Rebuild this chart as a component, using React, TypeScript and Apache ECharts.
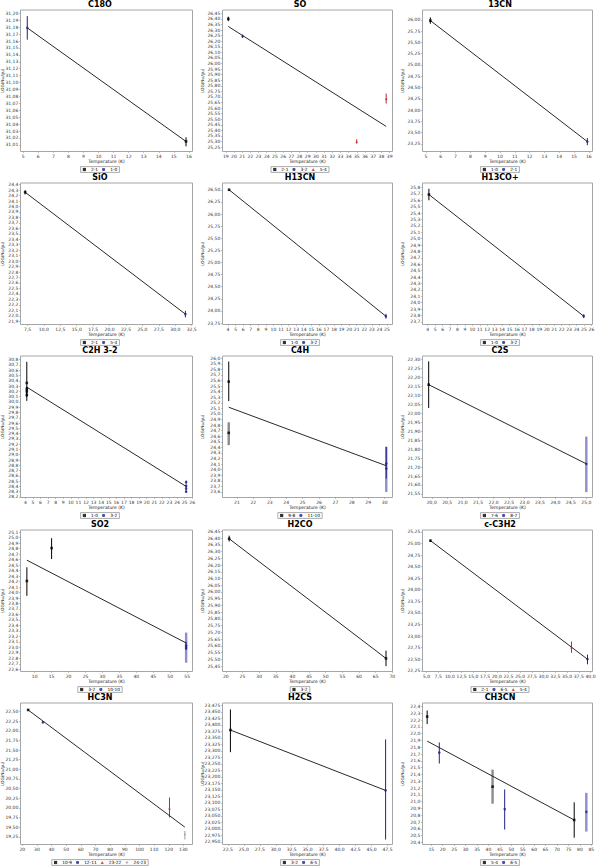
import React, { useEffect, useRef } from "react";
import * as echarts from "echarts";

const COLORS = ["#000000", "#20208c", "#c42a2a", "#a0a0a0"];
const LIGHT = ["#8c8c8c", "#8e8ec8", "#e08a8a", "#cfcfcf"];
const SYMBOLS = ["rect", "circle", "triangle", "diamond"];

// point rows: [x (Eu/k), log(Nu/gu), lower, upper, transition index, blended(0/1)]
// axis rows: [min, max, tick step, decimals]

const C18O_SERIES = ["2-1", "1-0"];
const C18O_POINTS = [[15.81, 31.015, 31.008, 31.021, 0, 0], [5.27, 31.179, 31.162, 31.196, 1, 0]];
const C18O_FIT = [[5.27, 31.179], [15.81, 31.015]];
const C18O_X = [4.82, 16.24, 1, 0];
const C18O_Y = [31.0005, 31.2048, 0.01, 2];

const SO_SERIES = ["2-1", "3-2", "5-4"];
const SO_POINTS = [[19.31, 26.40, 26.38, 26.42, 0, 0], [21.05, 26.244, 26.23, 26.26, 1, 0], [34.98, 25.30, 25.28, 25.32, 2, 0], [38.58, 25.685, 25.64, 25.73, 2, 0]];
const SO_FIT = [[19.31, 26.332], [38.58, 25.435]];
const SO_X = [18.6, 39.35, 1, 0];
const SO_Y = [25.21, 26.48, 0.05, 2];

const CN13_SERIES = ["1-0", "2-1"];
const CN13_POINTS = [[5.3, 25.985, 25.915, 26.055, 0, 0], [15.9, 23.30, 23.22, 23.38, 1, 0]];
const CN13_FIT = [[5.3, 25.985], [15.9, 23.30]];
const CN13_X = [4.77, 16.25, 1, 0];
const CN13_Y = [23.08, 26.22, 0.25, 2];

const SIO_SERIES = ["2-1", "5-4"];
const SIO_POINTS = [[7.15, 24.26, 24.22, 24.30, 0, 0], [31.54, 22.03, 21.97, 22.09, 1, 0]];
const SIO_FIT = [[7.15, 24.26], [31.54, 22.03]];
const SIO_X = [6.44, 32.62, 2.5, 1];
const SIO_Y = [21.84, 24.43, 0.1, 1];

const H13CN_SERIES = ["1-0", "3-2"];
const H13CN_POINTS = [[4.14, 26.50, 26.48, 26.52, 0, 0], [24.86, 23.89, 23.84, 23.94, 1, 0]];
const H13CN_FIT = [[4.14, 26.50], [24.86, 23.89]];
const H13CN_X = [3.27, 25.73, 1, 0];
const H13CN_Y = [23.72, 26.64, 0.25, 2];

const H13COP_SERIES = ["1-0", "3-2"];
const H13COP_POINTS = [[4.16, 25.69, 25.60, 25.78, 0, 0], [24.97, 23.79, 23.76, 23.82, 1, 0]];
const H13COP_FIT = [[4.16, 25.69], [24.97, 23.79]];
const H13COP_X = [3.3, 26.15, 1, 0];
const H13COP_Y = [23.66, 25.87, 0.1, 1];

const C2H_SERIES = ["1-0", "3-2"];
const C2H_POINTS = [
  [4.19, 30.36, 30.02, 30.76, 0, 0], [4.19, 30.25, 30.21, 30.29, 0, 0], [4.19, 30.20, 30.16, 30.24, 0, 0], [4.19, 30.13, 30.10, 30.17, 0, 0],
  [25.2, 28.48, 28.45, 28.51, 1, 0], [25.2, 28.41, 28.38, 28.44, 1, 0], [25.2, 28.36, 28.33, 28.39, 1, 0], [25.2, 28.30, 28.28, 28.33, 1, 0],
];
const C2H_FIT = [[4.19, 30.28], [25.2, 28.40]];
const C2H_X = [3.36, 26.04, 1, 0];
const C2H_Y = [28.19, 30.87, 0.1, 1];

const C4H_SERIES = ["9-8", "11-10"];
const C4H_POINTS = [
  [20.5, 24.66, 24.44, 24.85, 0, 1], [20.5, 25.58, 25.23, 25.94, 0, 0],
  [30.1, 24.02, 23.60, 24.41, 1, 1], [30.1, 24.11, 23.84, 24.41, 1, 0],
];
const C4H_FIT = [[20.5, 25.12], [30.1, 24.07]];
const C4H_X = [20.12, 30.48, 1, 0];
const C4H_Y = [23.5, 26.04, 0.1, 1];

const C2S_SERIES = ["7-6", "8-7"];
const C2S_POINTS = [[19.9, 22.16, 22.03, 22.29, 0, 0], [25.0, 21.718, 21.56, 21.87, 1, 1]];
const C2S_FIT = [[19.9, 22.16], [25.0, 21.718]];
const C2S_X = [19.7, 25.2, 0.5, 1];
const C2S_Y = [21.53, 22.32, 0.05, 2];

const SO2_SERIES = ["3-2", "10-10"];
const SO2_POINTS = [
  [7.7, 24.21, 23.94, 24.46, 0, 0], [15.0, 24.81, 24.61, 24.99, 0, 0],
  [54.7, 22.99, 22.72, 23.27, 1, 1], [54.7, 23.03, 22.95, 23.10, 1, 0],
];
const SO2_FIT = [[7.7, 24.59], [54.7, 23.08]];
const SO2_X = [5.82, 56.58, 5, 0];
const SO2_Y = [22.56, 25.14, 0.1, 1];

const H2CO_SERIES = ["3-2"];
const H2CO_POINTS = [[21.0, 26.395, 26.375, 26.418, 0, 0], [68.1, 25.507, 25.45, 25.565, 0, 0]];
const H2CO_FIT = [[21.0, 26.395], [68.1, 25.507]];
const H2CO_X = [19.0, 70.05, 5, 0];
const H2CO_Y = [25.41, 26.46, 0.05, 2];

const CC3H2_SERIES = ["2-1", "6-5", "5-4"];
const CC3H2_POINTS = [[5.85, 25.06, 25.04, 25.08, 0, 0], [39.36, 22.50, 22.39, 22.60, 1, 0], [35.95, 22.76, 22.64, 22.88, 2, 0]];
const CC3H2_FIT = [[5.85, 25.06], [39.36, 22.50]];
const CC3H2_X = [4.15, 40.43, 2.5, 1];
const CC3H2_Y = [22.235, 25.29, 0.25, 2];

const HC3N_SERIES = ["10-9", "12-11", "23-22", "24-23"];
const HC3N_POINTS = [[24.0, 22.54, 22.52, 22.56, 0, 0], [34.1, 22.22, 22.19, 22.25, 1, 0], [120.5, 19.99, 19.75, 20.27, 2, 0], [130.98, 19.31, 19.18, 19.40, 3, 0]];
const HC3N_FIT = [[24.0, 22.54], [130.98, 19.50]];
const HC3N_X = [18.8, 136.2, 10, 0];
const HC3N_Y = [19.05, 22.72, 0.25, 2];

const H2CS_SERIES = ["3-2", "6-5"];
const H2CS_POINTS = [[22.9, 23.38, 23.295, 23.459, 0, 0], [47.2, 23.148, 22.959, 23.344, 1, 0]];
const H2CS_FIT = [[22.9, 23.38], [47.2, 23.148]];
const H2CS_X = [21.66, 48.28, 2.5, 1];
const H2CS_Y = [22.94, 23.484, 0.025, 3];

const CH3CN_SERIES = ["5-4", "6-5"];
const CH3CN_POINTS = [
  [13.2, 22.25, 22.14, 22.34, 0, 0], [18.5, 21.72, 21.56, 21.87, 1, 0],
  [41.8, 21.22, 20.97, 21.47, 0, 1], [47.1, 20.89, 20.59, 21.18, 1, 0],
  [82.8, 20.85, 20.56, 21.13, 1, 1], [77.5, 20.73, 20.47, 20.99, 0, 0],
];
const CH3CN_FIT = [[13.2, 21.89], [77.5, 20.73]];
const CH3CN_X = [11.16, 85.5, 5, 0];
const CH3CN_Y = [20.37, 22.45, 0.1, 1];

const PANELS = [
  { title: "C18O", series: C18O_SERIES, points: C18O_POINTS, fit: C18O_FIT, x: C18O_X, y: C18O_Y },
  { title: "SO", series: SO_SERIES, points: SO_POINTS, fit: SO_FIT, x: SO_X, y: SO_Y },
  { title: "13CN", series: CN13_SERIES, points: CN13_POINTS, fit: CN13_FIT, x: CN13_X, y: CN13_Y },
  { title: "SiO", series: SIO_SERIES, points: SIO_POINTS, fit: SIO_FIT, x: SIO_X, y: SIO_Y },
  { title: "H13CN", series: H13CN_SERIES, points: H13CN_POINTS, fit: H13CN_FIT, x: H13CN_X, y: H13CN_Y },
  { title: "H13CO+", series: H13COP_SERIES, points: H13COP_POINTS, fit: H13COP_FIT, x: H13COP_X, y: H13COP_Y },
  { title: "C2H 3-2", series: C2H_SERIES, points: C2H_POINTS, fit: C2H_FIT, x: C2H_X, y: C2H_Y },
  { title: "C4H", series: C4H_SERIES, points: C4H_POINTS, fit: C4H_FIT, x: C4H_X, y: C4H_Y },
  { title: "C2S", series: C2S_SERIES, points: C2S_POINTS, fit: C2S_FIT, x: C2S_X, y: C2S_Y },
  { title: "SO2", series: SO2_SERIES, points: SO2_POINTS, fit: SO2_FIT, x: SO2_X, y: SO2_Y },
  { title: "H2CO", series: H2CO_SERIES, points: H2CO_POINTS, fit: H2CO_FIT, x: H2CO_X, y: H2CO_Y },
  { title: "c-C3H2", series: CC3H2_SERIES, points: CC3H2_POINTS, fit: CC3H2_FIT, x: CC3H2_X, y: CC3H2_Y },
  { title: "HC3N", series: HC3N_SERIES, points: HC3N_POINTS, fit: HC3N_FIT, x: HC3N_X, y: HC3N_Y },
  { title: "H2CS", series: H2CS_SERIES, points: H2CS_POINTS, fit: H2CS_FIT, x: H2CS_X, y: H2CS_Y },
  { title: "CH3CN", series: CH3CN_SERIES, points: CH3CN_POINTS, fit: CH3CN_FIT, x: CH3CN_X, y: CH3CN_Y },
];

const FONT = "DejaVu Sans";

function fmt(dec: number) {
  return (v: number) => v.toFixed(dec).replace(".", ",");
}

function buildOption(p: any, col: number) {
  const [xMin, xMax, xStep, xDec] = p.x;
  const [yMin, yMax, yStep, yDec] = p.y;
  const series: any[] = [];
  series.push({
    type: "custom",
    data: p.points,
    encode: { x: 0, y: 1 },
    silent: true,
    z: 2,
    renderItem: (_params: any, api: any) => {
      const x = api.value(0);
      const lo = api.value(2);
      const hi = api.value(3);
      const s = api.value(4);
      const light = api.value(5);
      const a = api.coord([x, lo]);
      const b = api.coord([x, hi]);
      return {
        type: "line",
        shape: { x1: a[0], y1: a[1], x2: b[0], y2: b[1] },
        style: { stroke: light ? LIGHT[s] : COLORS[s], lineWidth: light ? 2.4 : 1 },
      };
    },
  });
  series.push({
    type: "line",
    data: p.fit,
    symbol: "none",
    silent: true,
    z: 3,
    lineStyle: { color: "#111", width: 0.9 },
  });
  p.series.forEach((name: string, i: number) => {
    series.push({
      type: "scatter",
      name,
      data: p.points.filter((q: number[]) => q[4] === i).map((q: number[]) => [q[0], q[1]]),
      symbol: SYMBOLS[i],
      symbolSize: 2.6,
      itemStyle: { color: COLORS[i] },
      silent: true,
      z: 4,
    });
  });
  const left = col === 0 ? 20.5 : 22.5;
  return {
    animation: false,
    backgroundColor: "#ffffff",
    textStyle: { fontFamily: FONT },
    title: {
      text: p.title,
      left: "center",
      top: 0.5,
      padding: 0,
      textStyle: { fontSize: 8, fontWeight: "bold", color: "#000", fontFamily: FONT },
    },
    legend: {
      data: p.series,
      bottom: 0.6,
      left: "center",
      itemWidth: 3.2,
      itemHeight: 3.2,
      itemGap: 4,
      padding: [0.4, 2.2],
      borderColor: "#888",
      borderWidth: 0.7,
      selectedMode: false,
      textStyle: { fontSize: 4.3, color: "#000", fontFamily: FONT, lineHeight: 5 },
    },
    grid: {
      left,
      right: 7.5,
      top: 10,
      bottom: 21.5,
      show: true,
      borderColor: "#a6a6a6",
      borderWidth: 1,
      backgroundColor: "#ffffff",
      outerBoundsMode: "none",
      containLabel: false,
    },
    xAxis: {
      type: "value",
      min: xMin,
      max: xMax,
      minInterval: xStep,
      maxInterval: xStep,
      axisLine: { show: false },
      axisTick: { show: true, length: 1.5, lineStyle: { color: "#888", width: 0.5 } },
      splitLine: { show: false },
      axisLabel: {
        fontSize: 4.5,
        color: "#333",
        margin: 2.2,
        showMinLabel: false,
        showMaxLabel: false,
        hideOverlap: false,
        formatter: fmt(xDec),
        fontFamily: FONT,
      },
      name: "Temperature (K)",
      nameLocation: "middle",
      nameGap: 7.4,
      nameMoveOverlap: false,
      nameTextStyle: { fontSize: 4.5, color: "#222", fontFamily: FONT, lineHeight: 5 },
    },
    yAxis: {
      type: "value",
      min: yMin,
      max: yMax,
      minInterval: yStep,
      maxInterval: yStep,
      axisLine: { show: false },
      axisTick: { show: true, length: 1.5, lineStyle: { color: "#888", width: 0.5 } },
      splitLine: { show: false },
      axisLabel: {
        fontSize: 4.5,
        color: "#333",
        margin: 2.2,
        showMinLabel: false,
        showMaxLabel: false,
        hideOverlap: false,
        formatter: fmt(yDec),
        fontFamily: FONT,
      },
      name: "LOG(Nu/gu)",
      nameLocation: "middle",
      nameRotate: 90,
      nameGap: left - 5.2,
      nameMoveOverlap: false,
      nameTextStyle: { fontSize: 4.2, color: "#222", fontFamily: FONT, lineHeight: 5 },
    },
    series,
  };
}

function Panel({ panel, col, row }: { panel: any; col: number; row: number }) {
  const ref = useRef<HTMLDivElement>(null);
  useEffect(() => {
    if (!ref.current) return;
    const chart = echarts.init(ref.current, undefined, { renderer: "svg" });
    chart.setOption(buildOption(panel, col) as any);
    return () => chart.dispose();
  }, [panel, col]);
  const top = Math.round(row * 173.2);
  return (
    <div
      ref={ref}
      style={{ position: "absolute", left: col * 200, top, width: 200, height: 173 }}
    />
  );
}

export default function App() {
  return (
    <div style={{ position: "fixed", left: 0, top: 0, width: 600, height: 866, background: "#fff" }}>
      {PANELS.map((p, i) => (
        <Panel key={p.title} panel={p} col={i % 3} row={Math.floor(i / 3)} />
      ))}
    </div>
  );
}
